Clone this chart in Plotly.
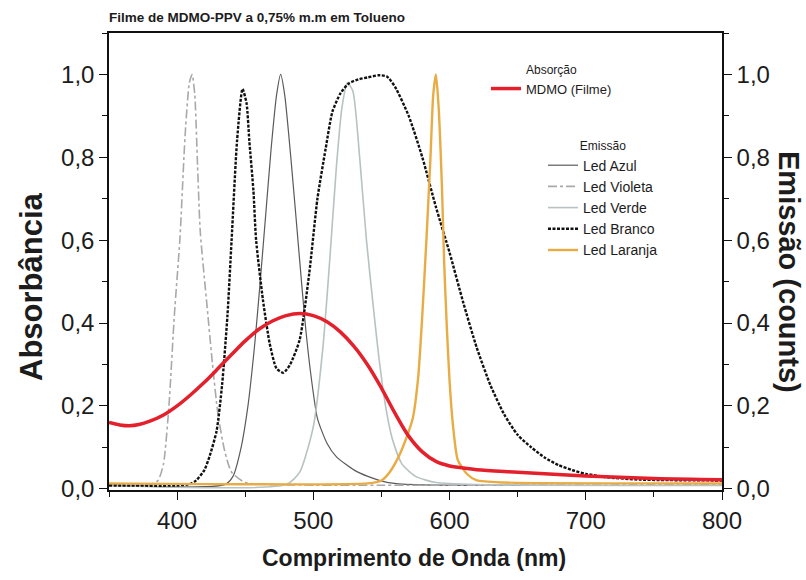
import plotly.graph_objects as go

# ---------------- data ----------------
abs_x = [350, 358, 365, 372, 380, 390, 400, 410, 420, 430, 440, 450, 460, 470, 480, 490, 500, 510,
         520, 530, 540, 550, 560, 570, 580, 590, 600, 610, 620, 650, 700, 750, 800]
abs_y = [0.16, 0.154, 0.152, 0.155, 0.163, 0.178, 0.2, 0.227, 0.257, 0.29, 0.324, 0.357, 0.385,
         0.405, 0.418, 0.423, 0.418, 0.403, 0.378, 0.343, 0.298, 0.243, 0.182, 0.127, 0.089, 0.066,
         0.055, 0.05, 0.046, 0.04, 0.031, 0.025, 0.022]

azul_x = [350, 435, 441, 447, 452, 457, 461, 465, 469, 473, 476, 479, 484, 490, 494, 498, 503, 510,
          517, 530, 540, 555, 575, 800]
azul_y = [0.008, 0.01, 0.03, 0.1, 0.2, 0.35, 0.5, 0.66, 0.82, 0.95, 1.0, 0.95, 0.78, 0.55, 0.4, 0.28,
          0.17, 0.11, 0.077, 0.045, 0.03, 0.015, 0.01, 0.008]

vio_x = [350, 380, 386, 390, 394, 398, 402, 406, 409, 411, 413, 415, 417, 422, 426, 430, 435, 440,
         450, 470, 800]
vio_y = [0.01, 0.01, 0.02, 0.06, 0.2, 0.42, 0.6, 0.86, 0.98, 1.0, 0.95, 0.78, 0.62, 0.44, 0.3, 0.18,
         0.09, 0.04, 0.015, 0.01, 0.01]

verde_x = [350, 480, 490, 500, 507, 512, 517, 521, 525, 529, 534, 539, 544, 548, 553, 558, 565, 575,
           590, 620, 800]
verde_y = [0.008, 0.01, 0.04, 0.15, 0.34, 0.55, 0.78, 0.92, 0.98, 0.96, 0.8, 0.6, 0.44, 0.32, 0.2,
           0.12, 0.06, 0.03, 0.015, 0.01, 0.008]

branco_x = [350, 400, 410, 414, 420, 424, 429, 433, 437, 440, 444, 448, 451, 453, 456, 458, 463, 468,
            473, 478, 483, 490, 497, 503, 509, 514, 520, 526, 533, 540, 548, 554, 560, 570, 580, 590,
            600, 610, 620, 630, 640, 650, 660, 670, 680, 690, 700, 715, 740, 800]
branco_y = [0.008, 0.008, 0.012, 0.02, 0.045, 0.08, 0.14, 0.25, 0.42, 0.6, 0.84, 0.965, 0.93, 0.84,
            0.72, 0.6, 0.456, 0.35, 0.29, 0.28, 0.30, 0.36, 0.52, 0.70, 0.82, 0.91, 0.955, 0.978,
            0.988, 0.993, 0.998, 0.995, 0.97, 0.9, 0.8, 0.68, 0.57, 0.45, 0.34, 0.25, 0.18, 0.13,
            0.1, 0.075, 0.057, 0.045, 0.036, 0.028, 0.022, 0.02]

laranja_x = [350, 540, 550, 556, 563, 568, 573, 577, 580, 583, 586, 588, 590, 592, 594.5, 596, 598,
             600, 602.6, 606, 613, 620, 640, 800]
laranja_y = [0.013, 0.013, 0.02, 0.04, 0.08, 0.12, 0.17, 0.27, 0.42, 0.6, 0.8, 0.95, 1.0, 0.92, 0.72,
             0.55, 0.39, 0.26, 0.15, 0.07, 0.035, 0.02, 0.015, 0.013]

x_ticks = [400, 500, 600, 700, 800]
y_ticks = [0.0, 0.2, 0.4, 0.6, 0.8, 1.0]

FONT = "Liberation Sans, Arial, sans-serif"
INK = "#1c1c1c"

fig = go.Figure()

emis = [
    ("Led Azul", azul_x, azul_y, "#5a5a5a", "solid", 1.2),
    ("Led Violeta", vio_x, vio_y, "#a9a9a9", "dashdot", 1.6),
    ("Led Verde", verde_x, verde_y, "#b8c2c2", "solid", 1.6),
    ("Led Branco", branco_x, branco_y, "#111111", "3px,1.5px", 2.4),
    ("Led Laranja", laranja_x, laranja_y, "#e9ac45", "solid", 2.4),
]
for name, xs, ys, col, dash, w in emis:
    fig.add_trace(go.Scatter(x=xs, y=ys, name=name, mode="lines",
                             line=dict(color=col, dash=dash, width=w, shape="spline", smoothing=0.6),
                             legend="legend2", yaxis="y"))

fig.add_trace(go.Scatter(x=abs_x, y=abs_y, name="MDMO (Filme)", mode="lines",
                         line=dict(color="#e3202b", width=3.5, shape="spline", smoothing=1.0),
                         legend="legend", yaxis="y2"))

axis_common = dict(
    showline=True, linecolor="#111", linewidth=1.5,
    ticks="outside", ticklen=8, tickwidth=1.3, tickcolor="#111",
    tickfont=dict(family=FONT, size=24, color=INK),
    showgrid=False, zeroline=False,
)

fig.update_layout(
    width=806, height=580,
    margin=dict(l=109, r=84, t=33, b=90),
    paper_bgcolor="white", plot_bgcolor="white",
    separators=",.",
    showlegend=True,
    title=dict(text="<b>Filme de MDMO-PPV a 0,75% m.m em Tolueno</b>",
               x=0, xref="paper", xanchor="left", y=1-17/580, yref="container", yanchor="middle",
               font=dict(family=FONT, size=13.5, color=INK)),
    xaxis=dict(range=[350, 800], tickvals=x_ticks, mirror=True,
               minor=dict(dtick=50, ticks="outside", ticklen=5, tickcolor="#111", tickwidth=1.2),
               **axis_common),
    yaxis=dict(range=[-0.003, 1.1], tickvals=y_ticks, tickformat=".1f",
               minor=dict(dtick=0.1, ticks="outside", ticklen=5, tickcolor="#111", tickwidth=1.2),
               **axis_common),
    yaxis2=dict(range=[-0.003, 1.1], tickvals=y_ticks, tickformat=".1f", overlaying="y",
                side="right", anchor="x",
                minor=dict(dtick=0.1, ticks="outside", ticklen=5, tickcolor="#111", tickwidth=1.2),
                **axis_common),
    legend=dict(x=(486-109)/613, y=(490-58)/457, xanchor="left", yanchor="top",
                bgcolor="rgba(0,0,0,0)", borderwidth=0,
                title=dict(text="Absorção", side="top center", font=dict(family=FONT, size=12, color=INK)),
                font=dict(family=FONT, size=13, color=INK)),
    legend2=dict(x=(543-109)/613, y=(490-134)/457, xanchor="left", yanchor="top",
                 bgcolor="rgba(0,0,0,0)", borderwidth=0,
                 title=dict(text="Emissão", side="top center", font=dict(family=FONT, size=12, color=INK)),
                 font=dict(family=FONT, size=14, color=INK)),
)

fig.add_annotation(text="<b>Absorbância</b>", xref="paper", yref="paper",
                   x=(31-109)/613, y=(490-287)/457, textangle=-90, showarrow=False,
                   xanchor="center", yanchor="middle",
                   font=dict(family=FONT, size=31, color=INK))
fig.add_annotation(text="<b>Emissão (counts)</b>", xref="paper", yref="paper",
                   x=(789-109)/613, y=(490-272)/457, textangle=90, showarrow=False,
                   xanchor="center", yanchor="middle",
                   font=dict(family=FONT, size=29, color=INK))
fig.add_annotation(text="<b>Comprimento de Onda (nm)</b>", xref="paper", yref="paper",
                   x=(414-109)/613, y=(490-558)/457, showarrow=False,
                   xanchor="center", yanchor="middle",
                   font=dict(family=FONT, size=23, color=INK))

fig.write_html("out.html")
